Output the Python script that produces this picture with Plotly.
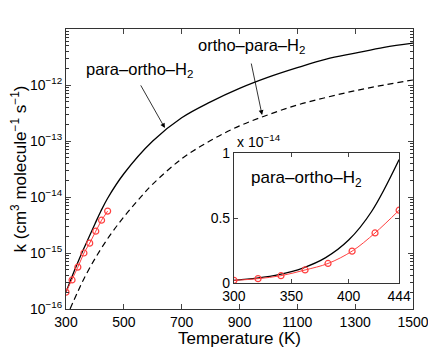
import plotly.graph_objects as go

# Rate constants (cm^3 molecule^-1 s^-1)
T_para = [300, 320, 340, 360, 380, 400, 420, 444, 500, 600, 700, 800,
          900, 1000, 1100, 1200, 1300, 1400, 1500]
k_para = [2.0e-16, 3.7e-16, 6.6e-16, 1.15e-15, 1.95e-15, 3.3e-15, 5.5e-15,
          9.5e-15, 2.6e-14, 1.0e-13, 2.6e-13, 5.0e-13, 8.7e-13, 1.38e-12,
          2.04e-12, 2.9e-12, 3.7e-12, 4.7e-12, 5.6e-12]

T_ortho = [314, 340, 360, 400, 450, 500, 550, 600, 700, 800, 900, 1000,
           1100, 1200, 1300, 1400, 1500]
k_ortho = [1.0e-16, 2.0e-16, 3.3e-16, 7.9e-16, 2.0e-15, 4.4e-15, 8.9e-15,
           1.7e-14, 4.8e-14, 1.02e-13, 1.86e-13, 2.95e-13, 4.4e-13, 6.0e-13,
           7.9e-13, 1.0e-12, 1.23e-12]

T_pts = [300, 321, 341, 362, 382, 403, 423, 444]
k_pts = [2.0e-16, 3.3e-16, 5.6e-16, 1.0e-15, 1.5e-15, 2.45e-15, 3.85e-15, 5.6e-15]

x_ticks = [300, 500, 700, 900, 1100, 1300, 1500]
y_decades = [-16, -15, -14, -13, -12]
inset_x_ticks = [300, 350, 400, 444]
inset_y_ticks = [0, 0.5, 1]
inset_scale = 1e14

FONT = "Liberation Sans, Arial, sans-serif"
AX = "#333333"
RED = '#ff4040'

fig = go.Figure()

# Main plot
fig.add_trace(go.Scatter(x=T_para, y=k_para, mode='lines', line=dict(color='black', width=1.3, shape='spline'),
                         showlegend=False))
fig.add_trace(go.Scatter(x=T_ortho, y=k_ortho, mode='lines',
                         line=dict(color='black', width=1.2, dash='6px,4px', shape='spline'), showlegend=False))
fig.add_trace(go.Scatter(x=T_pts, y=k_pts, mode='lines+markers', line=dict(color=RED, width=1),
                         marker=dict(symbol='circle-open', size=6, color=RED, line=dict(width=1.2)),
                         showlegend=False))

# Inset
T_in = [t for t in T_para if t <= 444]
k_in = [k * inset_scale for t, k in zip(T_para, k_para) if t <= 444]
fig.add_trace(go.Scatter(x=T_in, y=k_in, mode='lines', line=dict(color='black', width=1.3, shape='spline'),
                         xaxis='x2', yaxis='y2', showlegend=False))
fig.add_trace(go.Scatter(x=T_pts, y=[k * inset_scale for k in k_pts], mode='lines+markers',
                         line=dict(color=RED, width=1, shape='spline'),
                         marker=dict(symbol='circle-open', size=6, color=RED, line=dict(width=1.2)),
                         xaxis='x2', yaxis='y2', showlegend=False))

minor_vals = [m * 10.0 ** e for e in range(-16, -11) for m in range(2, 10)]


def label(text, x, y, **kw):
    return dict(text=text, xref='paper', yref='paper', x=x, y=y, xanchor=kw.get('xanchor', 'center'),
                yanchor=kw.get('yanchor', 'middle'), showarrow=False, font=dict(size=kw.get('size', 16.5)))


def arrow(x, y, ax, ay):
    return dict(text='', xref='x domain', yref='y domain', x=x, y=y, ax=ax, ay=ay,
                axref='x domain', ayref='y domain', showarrow=True, arrowhead=2, arrowsize=1.2,
                arrowwidth=0.8, arrowcolor='black')


# page body has an 8px margin, so the figure is sized 8px smaller on each side
fig.update_layout(
    width=428, height=340,
    margin=dict(l=58, r=23, t=21, b=39),
    paper_bgcolor='white', plot_bgcolor='white',
    font=dict(family=FONT, size=14, color='black'),
    xaxis=dict(domain=[0, 1], range=[300, 1500], tickvals=x_ticks, ticks='inside', ticklen=5,
               showline=True, linecolor=AX, linewidth=1, mirror='ticks', showgrid=False, zeroline=False,
               automargin=False, title=dict(text='Temperature (K)', standoff=2), tickfont=dict(size=14)),
    yaxis=dict(type='log', range=[-16, -11], tickvals=[10.0 ** e for e in y_decades],
               ticktext=[f'10<sup>−{abs(e)}</sup>' for e in y_decades],
               ticks='inside', ticklen=5, showline=True, linecolor=AX, linewidth=1, mirror='allticks',
               showgrid=False, zeroline=False, automargin=False,
               minor=dict(tickvals=minor_vals, ticks='inside', ticklen=3, tickcolor=AX, showgrid=False),
               title=dict(text='k (cm<sup>3</sup> molecule<sup>−1</sup> s<sup>−1</sup>)', standoff=2),
               tickfont=dict(size=14)),
    xaxis2=dict(domain=[0.484, 0.960], anchor='y2', range=[300, 444], tickvals=inset_x_ticks,
                ticks='inside', ticklen=4, showline=True, linecolor=AX, linewidth=1, mirror='ticks',
                showgrid=False, zeroline=False, automargin=False, tickfont=dict(size=14)),
    yaxis2=dict(domain=[0.093, 0.557], anchor='x2', range=[0, 1], tickvals=inset_y_ticks,
                ticktext=['0', '0.5', '1'], ticks='inside', ticklen=4, showline=True, linecolor=AX,
                linewidth=1, mirror='ticks', showgrid=False, zeroline=False, automargin=False,
                tickfont=dict(size=14)),
    shapes=[dict(type='rect', xref='paper', yref='paper', x0=0.484, x1=0.960, y0=0.093, y1=0.557,
                 fillcolor='white', line=dict(width=0), layer='below')],
    annotations=[
        label('para–ortho–H<sub>2</sub>', 0.213, 0.855),
        arrow(0.285, 0.646, 0.213, 0.804),
        label('ortho–para–H<sub>2</sub>', 0.536, 0.94),
        arrow(0.565, 0.693, 0.533, 0.882),
        label('para–ortho–H<sub>2</sub>', 0.692, 0.465, size=17),
        label('x 10<sup>−14</sup>', 0.487, 0.562, xanchor='left', yanchor='bottom', size=14),
    ],
)

fig.write_html("out.html")
